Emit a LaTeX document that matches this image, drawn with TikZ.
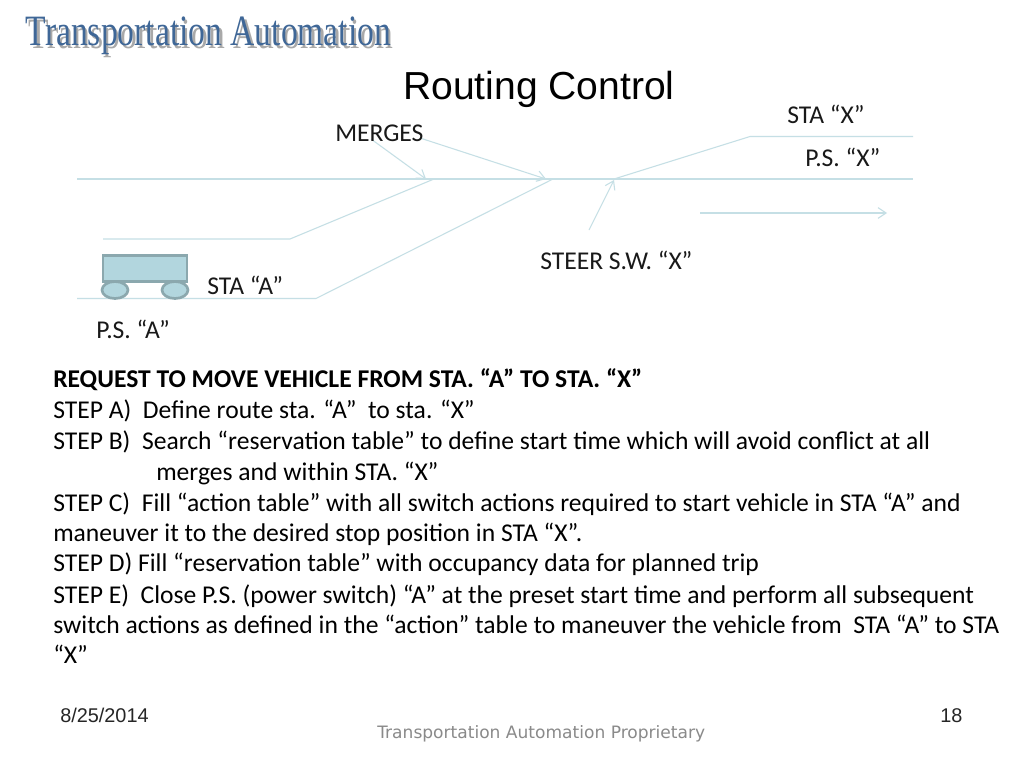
\documentclass[tikz,border=0pt]{standalone}
\usepackage{fontspec}
\usepackage{graphicx}
\setmainfont{Carlito}
\newfontfamily\arialf{Liberation Sans}
\newfontfamily\timesf{Liberation Serif}
\newfontfamily\footf{DejaVu Sans}
\usetikzlibrary{arrows.meta}
\definecolor{trackc}{HTML}{C5DFE5}
\definecolor{cartfill}{HTML}{B2D6DE}
\definecolor{cartedge}{HTML}{8BA8AE}
\definecolor{titleblue}{HTML}{3F6797}
\definecolor{titleshadow}{HTML}{A9A9A9}
\definecolor{footgray}{HTML}{8A8A8A}
\tikzset{
  track/.style={draw=trackc,line width=0.8pt},
  pointer/.style={track,-{Straight Barb[length=6pt,width=8pt]}},
  lbl/.style={anchor=base west,inner sep=0pt,font=\fontsize{19.2pt}{23pt}\selectfont,text=black!90},
  body/.style={anchor=base west,inner sep=0pt,font=\fontsize{19.2pt}{23pt}\selectfont,text=black},
  foot/.style={anchor=base west,inner sep=0pt,font=\arialf\fontsize{14.9pt}{17pt}\selectfont,text=black!85},
  cartpart/.style={draw=cartedge,fill=cartfill,line width=2pt},
}
\newcommand{\logotext}{\resizebox{274pt}{21.5pt}{\timesf Transportation Automation}}
\begin{document}
\begin{tikzpicture}[x=0.75pt,y=-0.75pt]
\useasboundingbox[fill=white] (0,0) rectangle (1024,768);
% coordinates
\coordinate (m1) at (77,179);
\coordinate (m2) at (913,179);
\coordinate (a1) at (103,239);
\coordinate (a2) at (290,239);
\coordinate (a3) at (434,179);
\coordinate (b1) at (77,298.5);
\coordinate (b2) at (316,298.5);
\coordinate (b3) at (553,179);
\coordinate (c1) at (614,179);
\coordinate (c2) at (750,136.5);
\coordinate (c3) at (913,136.5);
\coordinate (p1s) at (371,139);
\coordinate (p1e) at (426,179);
\coordinate (p2s) at (420,138);
\coordinate (p2e) at (546,179);
\coordinate (p3s) at (589,230);
\coordinate (p3e) at (614,180);
\coordinate (p4s) at (700,213);
\coordinate (p4e) at (887,213);
% tracks
\draw[track] (m1) -- (m2);
\draw[track] (a1) -- (a2) -- (a3);
\draw[track] (b1) -- (b2) -- (b3);
\draw[track] (c1) -- (c2) -- (c3);
\draw[pointer] (p1s) -- (p1e);
\draw[pointer] (p2s) -- (p2e);
\draw[pointer] (p3s) -- (p3e);
\draw[pointer] (p4s) -- (p4e);
% cart
\node[cartpart,shape=rectangle,minimum width=63pt,minimum height=19.5pt,inner sep=0pt,anchor=center] (cart) at (145,268.5) {};
\draw[cartpart] (115,290) ellipse (13 and 8.5);
\draw[cartpart] (175,290) ellipse (13 and 8.5);
% header
\node[anchor=base west,inner sep=0pt,text=titleshadow] (logoshadow) at (28,48.5) {\logotext};
\node[anchor=base west,inner sep=0pt,text=titleblue] (logo) at (25.5,45.5) {\logotext};
\node[anchor=base west,inner sep=0pt,font=\arialf\fontsize{29.3pt}{34pt}\selectfont] (title) at (403,99) {Routing Control};
% labels
\node[lbl] (merges) at (335,141) {MERGES};
\node[lbl] (stax) at (787,123) {STA “X”};
\node[lbl] (psx) at (805,166) {P.S. “X”};
\node[lbl] (steer) at (540,269) {STEER S.W. “X”};
\node[lbl] (staa) at (207,294) {STA “A”};
\node[lbl] (psa) at (96,338) {P.S. “A”};
% body
\node[body,font=\fontsize{19.2pt}{23pt}\selectfont\bfseries] (t1) at (53,387) {REQUEST TO MOVE VEHICLE FROM STA. “A” TO STA. “X”};
\node[body] (t2) at (53,418) {STEP A)\ \ Define route sta. “A”\ \ to sta. “X”};
\node[body] (t3) at (53,449) {STEP B)\ \ Search “reservation table” to define start time which will avoid conflict at all};
\node[body] (t4) at (156,480) {merges and within STA. “X”};
\node[body] (t5) at (53,511) {STEP C)\ \ Fill “action table” with all switch actions required to start vehicle in STA “A” and};
\node[body] (t6) at (53,541) {maneuver it to the desired stop position in STA “X”.};
\node[body] (t7) at (53,571.5) {STEP D) Fill “reservation table” with occupancy data for planned trip};
\node[body] (t8) at (53,603) {STEP E)\ \ Close P.S. (power switch) “A” at the preset start time and perform all subsequent};
\node[body] (t9) at (53,633) {switch actions as defined in the “action” table to maneuver the vehicle from\ \ STA “A” to STA};
\node[body] (t10) at (53,663) {“X”};
% footer
\node[foot] (date) at (60,722) {8/25/2014};
\node[foot] (num) at (940,722) {18};
\node[anchor=base west,inner sep=0pt,font=\footf\fontsize{12.8pt}{15pt}\selectfont,text=footgray] (prop) at (377,738) {Transportation Automation Proprietary};
\end{tikzpicture}
\end{document}
